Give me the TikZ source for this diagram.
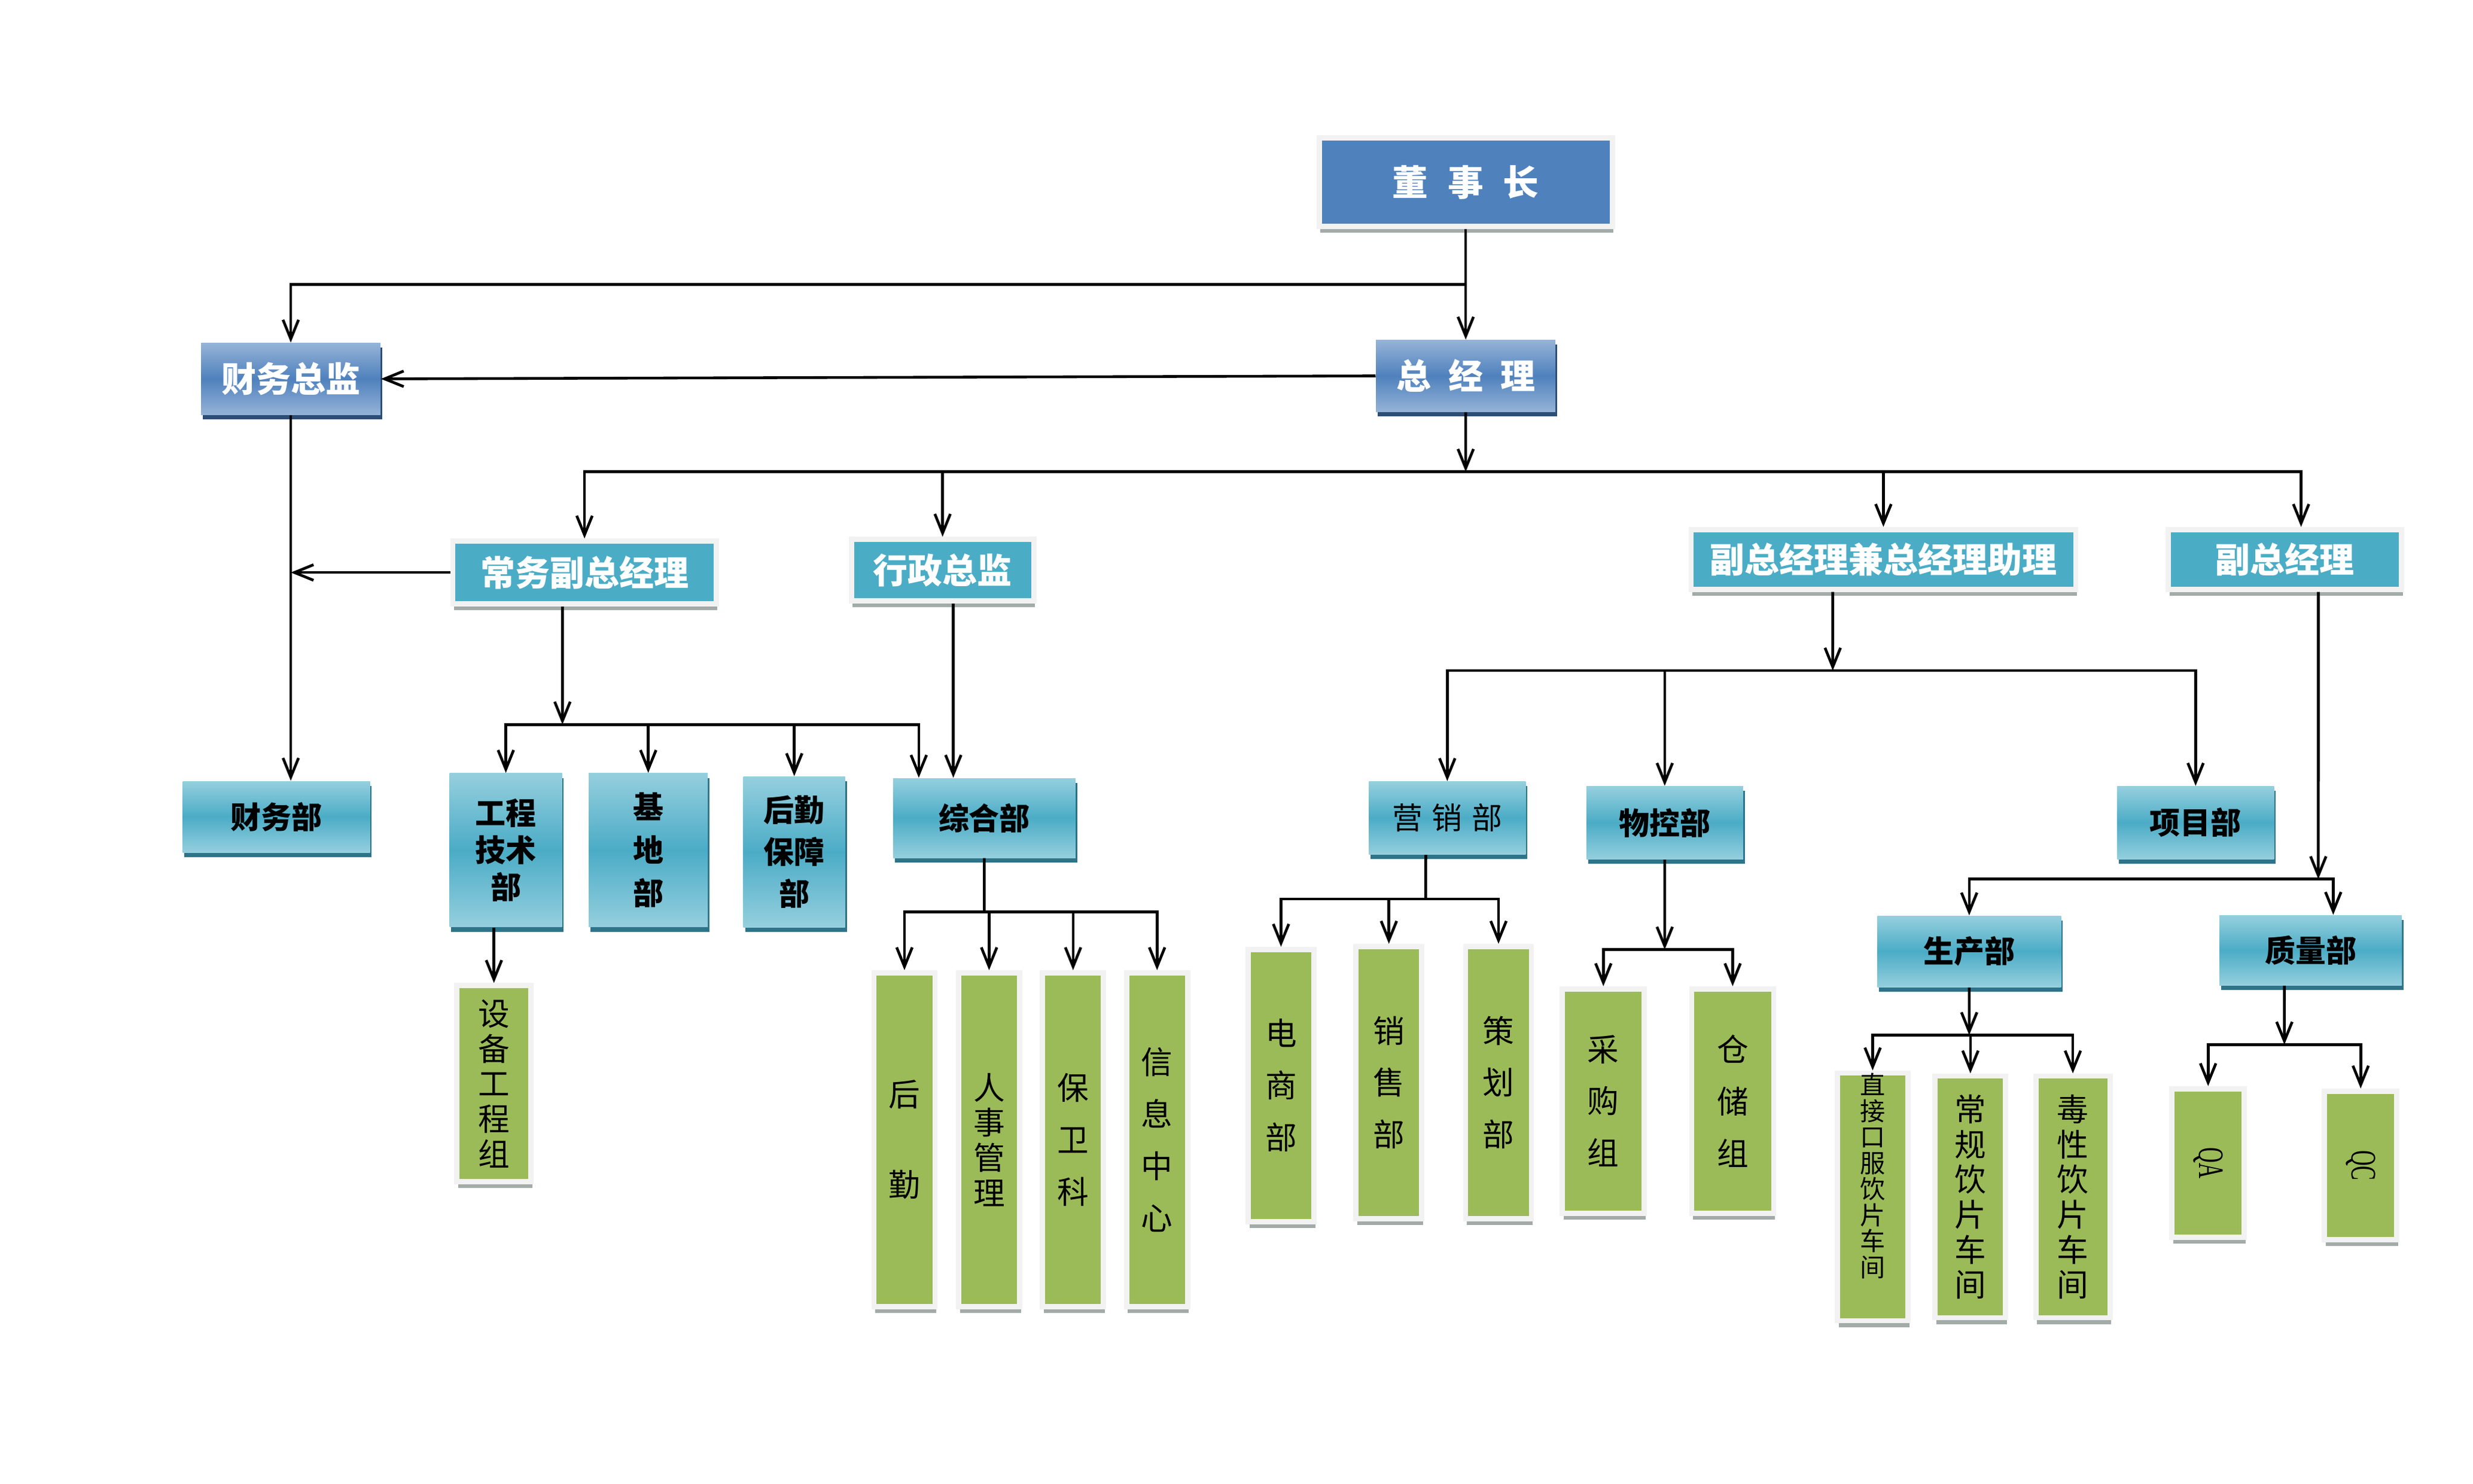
\documentclass[tikz,border=0pt]{standalone}
\usepackage{fontspec}
\usepackage{graphicx}
\setmainfont{Liberation Serif}
\newfontfamily\zhfont{Noto Sans CJK SC}
\usetikzlibrary{calc}
\usetikzlibrary{arrows.meta}
\usetikzlibrary{shadows}

\definecolor{dblue}{HTML}{4F81BD}
\definecolor{lblue}{HTML}{95B3D7}
\definecolor{sblue}{HTML}{2C4D75}
\definecolor{dteal}{HTML}{4BACC6}
\definecolor{lteal}{HTML}{95CFDE}
\definecolor{steal}{HTML}{2E7489}
\definecolor{dgreen}{HTML}{9BBB59}
\definecolor{frame}{HTML}{F2F2F2}
\definecolor{shade}{HTML}{A3ABA8}

\tikzset{
  box/.style={rectangle, inner sep=0pt, align=center},
  plainbox/.style={box, draw=frame, line width=2.5pt,
    drop shadow={shadow xshift=0.6pt, shadow yshift=-3pt, fill=shade, opacity=1}},
  bluebox/.style={plainbox, fill=dblue, text=white, font=\zhfont\bfseries\fontsize{17}{20}\selectfont},
  tealbox/.style={plainbox, fill=dteal, text=white, font=\zhfont\bfseries\fontsize{16.5}{19}\selectfont},
  gblue/.style={box, top color=lblue, bottom color=lblue, middle color=dblue, text=white,
    font=\zhfont\bfseries\fontsize{16.5}{19}\selectfont,
    drop shadow={shadow xshift=0.8pt, shadow yshift=-2.2pt, fill=sblue, opacity=1}},
  gteal/.style={box, top color=lteal, bottom color=lteal, middle color=dteal, text=black,
    font=\zhfont\bfseries\fontsize{14.5}{17.6}\selectfont,
    drop shadow={shadow xshift=0.8pt, shadow yshift=-2.2pt, fill=steal, opacity=1}},
  gbox/.style={plainbox, fill=dgreen, text=black},
  lead/.style={font=\zhfont\fontsize{15}{#1}\selectfont},
  link/.style={line width=1.3pt},
  arr/.style={line width=1.3pt, -{Straight Barb[length=0.32cm, width=0.26cm, line width=1.3pt]}},
}

\begin{document}
\begin{tikzpicture}[scale=.996]

\useasboundingbox (0,0) rectangle (41.505,-24.90);

% top
\node[bluebox, minimum width=4.9cm, minimum height=1.48cm] (dsz) at (24.6,-3.06) {董\hspace{0.55em}事\hspace{0.55em}长};
\node[gblue, minimum width=3.0cm, minimum height=1.2cm] (zjl) at (24.6,-6.31) {总\hspace{0.5em}经\hspace{0.5em}理};
\node[gblue, minimum width=3.0cm, minimum height=1.2cm] (cwzj) at (4.88,-6.36) {财务总监};

\node[tealbox, minimum width=4.4cm, minimum height=1.05cm] (cwfz) at (9.81,-9.61) {常务副总经理};
\node[tealbox, minimum width=3.05cm, minimum height=1.03cm] (xzzj) at (15.82,-9.57) {行政总监};
\node[tealbox, minimum width=6.43cm, minimum height=1.0cm] (fzjz) at (31.61,-9.39) {副总经理兼总经理助理};
\node[tealbox, minimum width=3.9cm, minimum height=1.0cm] (fzjl) at (38.35,-9.39) {副总经理};

% departments
\node[gteal, minimum width=3.13cm, minimum height=1.19cm] (cwb) at (4.64,-13.71) {财务部};
\node[gteal, minimum width=1.88cm, minimum height=2.57cm] (gcjs) at (8.49,-14.27) {工程\\技术\\部};
\node[gteal, minimum width=1.99cm, minimum height=2.57cm, font=\zhfont\bfseries\fontsize{14.5}{20.4}\selectfont] (jdb) at (10.88,-14.27) {基\\地\\部};
\node[gteal, minimum width=1.70cm, minimum height=2.52cm, font=\zhfont\bfseries\fontsize{14.5}{20}\selectfont] (hqbz) at (13.33,-14.30) {后勤\\保障\\部};
\node[gteal, minimum width=3.05cm, minimum height=1.33cm] (zhb) at (16.52,-13.73) {综合部};
\node[gteal, minimum width=2.62cm, minimum height=1.22cm, font=\zhfont\fontsize{14.5}{17}\selectfont] (yxb) at (24.29,-13.73) {营\hspace{0.3em}销\hspace{0.3em}部};
\node[gteal, minimum width=2.62cm, minimum height=1.22cm] (wkb) at (27.94,-13.81) {物控部};
\node[gteal, minimum width=2.62cm, minimum height=1.22cm] (xmb) at (36.85,-13.81) {项目部};
\node[gteal, minimum width=3.07cm, minimum height=1.19cm] (scb) at (33.05,-15.97) {生产部};
\node[gteal, minimum width=3.05cm, minimum height=1.17cm] (zlb) at (38.78,-15.95) {质量部};

% groups
\node[gbox, minimum width=1.24cm, minimum height=3.28cm, lead=16.7pt] (sbgc) at (8.29,-18.19) {设\\备\\工\\程\\组};
\node[gbox, minimum width=1.02cm, minimum height=5.58cm, lead=42.8pt] (hq) at (15.18,-19.13) {后\\勤};
\node[gbox, minimum width=1.02cm, minimum height=5.58cm, lead=16.7pt] (rsgl) at (16.60,-19.13) {人\\事\\管\\理};
\node[gbox, minimum width=1.02cm, minimum height=5.58cm, lead=24.7pt] (bwk) at (18.01,-19.13) {保\\卫\\科};
\node[gbox, minimum width=1.02cm, minimum height=5.58cm, lead=24.7pt] (xxzx) at (19.42,-19.13) {信\\息\\中\\心};
\node[gbox, minimum width=1.10cm, minimum height=4.55cm, lead=24.7pt] (dsb) at (21.50,-18.22) {电\\商\\部};
\node[gbox, minimum width=1.10cm, minimum height=4.55cm, lead=24.7pt] (xsb) at (23.31,-18.17) {销\\售\\部};
\node[gbox, minimum width=1.10cm, minimum height=4.55cm, lead=24.7pt] (chb) at (25.15,-18.17) {策\\划\\部};
\node[gbox, minimum width=1.37cm, minimum height=3.75cm, lead=24.7pt] (cgz) at (26.91,-18.48) {采\\购\\组};
\node[gbox, minimum width=1.37cm, minimum height=3.75cm, lead=24.7pt] (ccz) at (29.08,-18.48) {仓\\储\\组};
\node[gbox, minimum width=1.18cm, minimum height=4.04cm, font=\zhfont\fontsize{12}{12.4}\selectfont] (zjkf) at (31.43,-20.09) {直\\接\\口\\服\\饮\\片\\车\\间\\[0.3cm]};
\node[gbox, minimum width=1.18cm, minimum height=4.04cm, lead=16.7pt] (cgyp) at (33.07,-20.09) {常\\规\\饮\\片\\车\\间};
\node[gbox, minimum width=1.24cm, minimum height=4.04cm, lead=16.7pt] (dxyp) at (34.79,-20.09) {毒\\性\\饮\\片\\车\\间};
\node[gbox, minimum width=1.21cm, minimum height=2.48cm] (qa) at (37.06,-19.52) {\rotatebox{-90}{\scalebox{0.6}[1]{\fontsize{17}{17}\selectfont QA}}};
\node[gbox, minimum width=1.21cm, minimum height=2.48cm] (qc) at (39.62,-19.56) {\rotatebox{-90}{\scalebox{0.6}[1]{\fontsize{17}{17}\selectfont QC}}};

% connectors
\coordinate (t1) at ($(dsz.south)!0.5!(zjl.north)$);
\draw[arr] (dsz.south) -- (zjl.north);
\draw[arr] (t1) -| (cwzj.north);
\draw[arr] (zjl.west) -- (cwzj.east);

\coordinate (b1) at ($(zjl.south)+(0,-1.0)$);
\draw[arr] (zjl.south) -- (b1);
\draw[arr] (b1) -| (cwfz.north);
\draw[arr] (b1) -| (xzzj.north);
\draw[arr] (b1) -| (fzjz.north);
\draw[arr] (b1) -| ([xshift=0.27cm]fzjl.north);

\draw[arr] (cwzj.south) -- (cwzj.south |- cwb.north);
\draw[arr] (cwfz.west) -- (cwzj.south |- cwfz.west);

\coordinate (b2) at ($(cwfz.south)+(-0.37,-1.98)$);
\draw[arr] ([xshift=-0.37cm]cwfz.south) -- (b2);
\draw[arr] (b2) -| (gcjs.north);
\draw[arr] (b2) -| (jdb.north);
\draw[arr] (b2) -| (hqbz.north);
\draw[arr] (b2) -| ([xshift=-1.1cm]zhb.north);
\draw[arr] ([xshift=0.18cm]xzzj.south) -- ([xshift=0.18cm]xzzj.south |- zhb.north);
\draw[arr] (sbgc.north |- gcjs.south) -- (sbgc.north);

\coordinate (b3) at ($(zhb.south)+(0,-0.9)$);
\draw[link] (zhb.south) -- (b3);
\draw[arr] (b3) -| (hq.north);
\draw[arr] (b3) -| (rsgl.north);
\draw[arr] (b3) -| (bwk.north);
\draw[arr] (b3) -| (xxzx.north);

\coordinate (b4) at ($(fzjz.south)+(-0.85,-1.32)$);
\draw[arr] ([xshift=-0.85cm]fzjz.south) -- (b4);
\draw[arr] (b4) -| (yxb.north);
\draw[arr] (b4) -| (wkb.north);
\draw[arr] (b4) -| (xmb.north);

\coordinate (b5) at ($(yxb.south)+(-0.36,-0.74)$);
\draw[link] ([xshift=-0.36cm]yxb.south) -- (b5);
\draw[arr] (b5) -| (dsb.north);
\draw[arr] (b5) -| (xsb.north);
\draw[arr] (b5) -| (chb.north);

\coordinate (b6) at ($(wkb.south)+(0,-1.51)$);
\draw[arr] (wkb.south) -- (b6);
\draw[arr] (b6) -| (cgz.north);
\draw[arr] (b6) -| (ccz.north);

\coordinate (b7) at ($(fzjl.south)+(0.56,-4.82)$);
\draw[arr] ([xshift=0.56cm]fzjl.south) -- (b7);
\draw[arr] (b7) -| (scb.north);
\draw[arr] (b7) -| ([xshift=0.38cm]zlb.north);

\coordinate (b8) at ($(scb.south)+(0,-0.8)$);
\draw[arr] (scb.south) -- (b8);
\draw[arr] (b8) -| (zjkf.north);
\draw[arr] (b8) -| (cgyp.north);
\draw[arr] (b8) -| (dxyp.north);

\coordinate (b9) at ($(zlb.south)+(-0.44,-0.99)$);
\draw[arr] ([xshift=-0.44cm]zlb.south) -- (b9);
\draw[arr] (b9) -| (qa.north);
\draw[arr] (b9) -| (qc.north);

\end{tikzpicture}
\end{document}
